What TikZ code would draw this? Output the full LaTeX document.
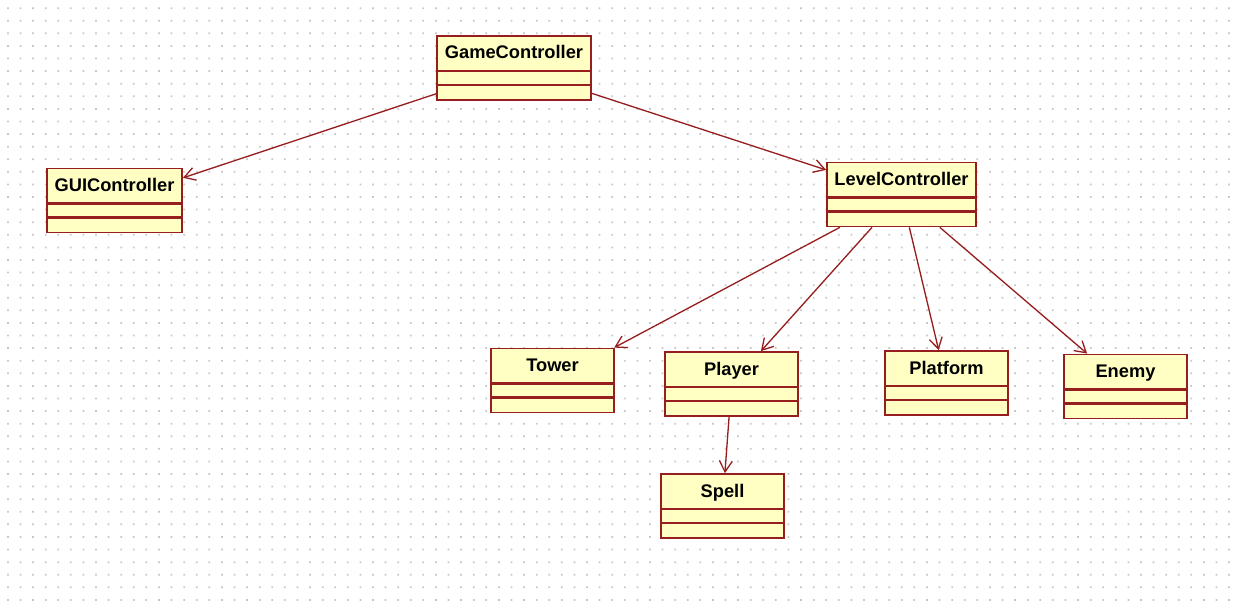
\documentclass[tikz,border=0pt]{standalone}
\usepackage{fontspec}
\setmainfont{Liberation Sans}
\usetikzlibrary{arrows.meta}
\definecolor{umlline}{RGB}{150,30,30}
\definecolor{umlfill}{RGB}{255,255,196}
\definecolor{griddot}{RGB}{200,200,200}

\begin{document}
\begin{tikzpicture}[
      >={Straight Barb[length=2.2mm,width=2.6mm]},
      cls/.style={draw=umlline, fill=umlfill, line width=1pt, minimum height=1.28cm,
        inner ysep=0pt, text height=0.46cm, text depth=0.82cm,
        font=\fontsize{10.4}{12}\selectfont\bfseries,
        path picture={
          \draw[umlline, line width=1.6pt]
            ([yshift=-0.70cm]path picture bounding box.north west) -- ([yshift=-0.70cm]path picture bounding box.north east)
            ([yshift=-0.98cm]path picture bounding box.north west) -- ([yshift=-0.98cm]path picture bounding box.north east);
        }},
      nav/.style={->, draw=umlline, line width=0.75pt}]
    \useasboundingbox (0,0) rectangle (24.7,-12.24);
    % dotted canvas
    \fill[griddot] \foreach \i in {0,...,97} {\foreach \j in {0,...,47} {
        (0.14+0.2518*\i,-0.146-0.2518*\j) rectangle ++(0.035,-0.035)}};
    % classes
    \node[cls, minimum width=3.08cm] (game) at (10.28,-1.36) {GameController};
    \node[cls, minimum width=2.70cm] (gui) at (2.29,-4.01) {GUIController};
    \node[cls, minimum width=2.98cm] (level) at (18.03,-3.89) {LevelController};
    \node[cls, minimum width=2.46cm] (tower) at (11.05,-7.61) {Tower};
    \node[cls, minimum width=2.66cm] (player) at (14.63,-7.68) {Player};
    \node[cls, minimum width=2.46cm] (platform) at (18.93,-7.66) {Platform};
    \node[cls, minimum width=2.46cm] (enemy) at (22.51,-7.73) {Enemy};
    \node[cls, minimum width=2.46cm] (spell) at (14.45,-10.12) {Spell};
    % associations
    \draw[nav] (game) -- (gui);
    \draw[nav] (game) -- (level);
    \draw[nav] (level) -- (tower);
    \draw[nav] (level) -- (player);
    \draw[nav] (level) -- (platform);
    \draw[nav] (level) -- (enemy);
    \draw[nav] (player) -- (spell);
\end{tikzpicture}
\end{document}
